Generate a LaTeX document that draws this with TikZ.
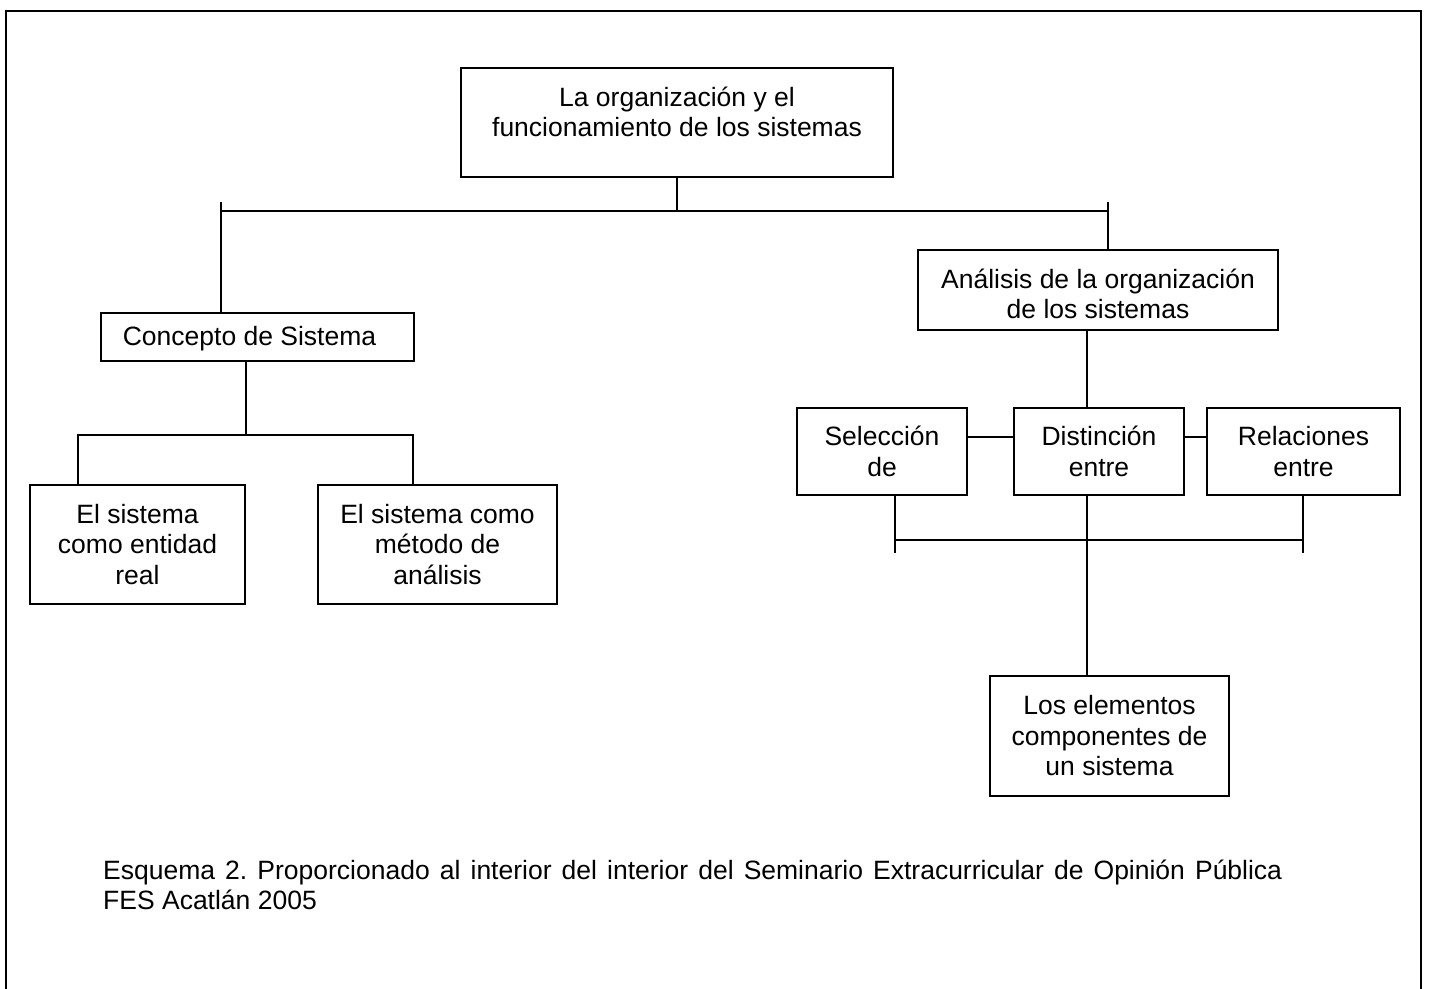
\documentclass[tikz,border=0pt]{standalone}
\usepackage{fontspec}
\setmainfont{Liberation Sans}
\frenchspacing
\begin{document}
\begin{tikzpicture}[x=1pt,y=-1pt,
  box/.style={draw, line width=1.6pt, inner sep=0pt, align=center,
    font=\fontsize{26.5}{30.5}\selectfont},
  txt/.style={inner sep=0pt, align=center, font=\fontsize{26.5}{30.5}\selectfont},
  conn/.style={line width=1.6pt}]
\useasboundingbox (0,0) rectangle (1429,988);
% frame
\draw[line width=2.2pt] (6,1000) -- (6,11) -- (1421,11) -- (1421,1000);
% boxes
\node[box, minimum width=432pt, minimum height=109pt] (top) at (677,122.5) {};
\node[txt] (toptxt) at (677,112) {La organización y el\\funcionamiento de los sistemas};
\node[box, minimum width=313pt, minimum height=48pt] (con) at (257.5,337) {};
\node[txt] (contxt) at (249.5,339) {Concepto de Sistema};
\node[box, minimum width=215pt, minimum height=119pt] (ent) at (137.5,544.5) {El sistema\\como entidad\\real};
\node[box, minimum width=239pt, minimum height=119pt] (met) at (437.5,544.5) {El sistema como\\método de\\análisis};
\node[box, minimum width=360pt, minimum height=80pt] (ana) at (1098,290) {};
\node[txt] (anatxt) at (1098,294) {Análisis de la organización\\de los sistemas};
\node[box, minimum width=170pt, minimum height=87pt] (sel) at (882,451.5) {Selección\\de};
\node[box, minimum width=170pt, minimum height=87pt] (dis) at (1099,451.5) {Distinción\\entre};
\node[box, minimum width=193pt, minimum height=87pt] (rel) at (1303.5,451.5) {Relaciones\\entre};
\node[box, minimum width=239pt, minimum height=120pt] (elem) at (1109.5,736) {Los elementos\\componentes de\\un sistema};
% junction coordinates
\coordinate (j1) at (677,211);
\coordinate (c1L) at (221,202);
\coordinate (c1R) at (1108,202);
\coordinate (j2) at (246,435);
\coordinate (j2L) at (78,435);
\coordinate (j2R) at (413,435);
\coordinate (s3) at (1087,0);
\coordinate (h3) at (0,437);
\coordinate (b3L) at (895,553);
\coordinate (b3R) at (1303,553);
\coordinate (b3) at (0,540);
% level 1
\draw[conn] (top.south) -- (j1);
\draw[conn] (c1L |- j1) -- (c1R |- j1);
\draw[conn] (c1L) -- (c1L |- con.north);
\draw[conn] (c1R) -- (c1R |- ana.north);
% level 2 left
\draw[conn] (j2 |- con.south) -- (j2);
\draw[conn] (j2L |- ent.north) -- (j2L) -- (j2R) -- (j2R |- met.north);
% right side
\draw[conn] (s3 |- ana.south) -- (s3 |- dis.north);
\draw[conn] (sel.east |- h3) -- (dis.west |- h3);
\draw[conn] (dis.east |- h3) -- (rel.west |- h3);
\draw[conn] (b3L |- sel.south) -- (b3L);
\draw[conn] (b3R |- rel.south) -- (b3R);
\draw[conn] (b3L |- b3) -- (b3R |- b3);
\draw[conn] (s3 |- dis.south) -- (s3 |- elem.north);
% caption
\node[txt, anchor=base west] (cap1) at (103,879) {\makebox[1179pt][s]{Esquema 2. Proporcionado al interior del interior del Seminario Extracurricular de Opinión Pública}};
\node[txt, anchor=base west] (cap2) at (103,909) {FES Acatlán 2005};
\end{tikzpicture}
\end{document}
